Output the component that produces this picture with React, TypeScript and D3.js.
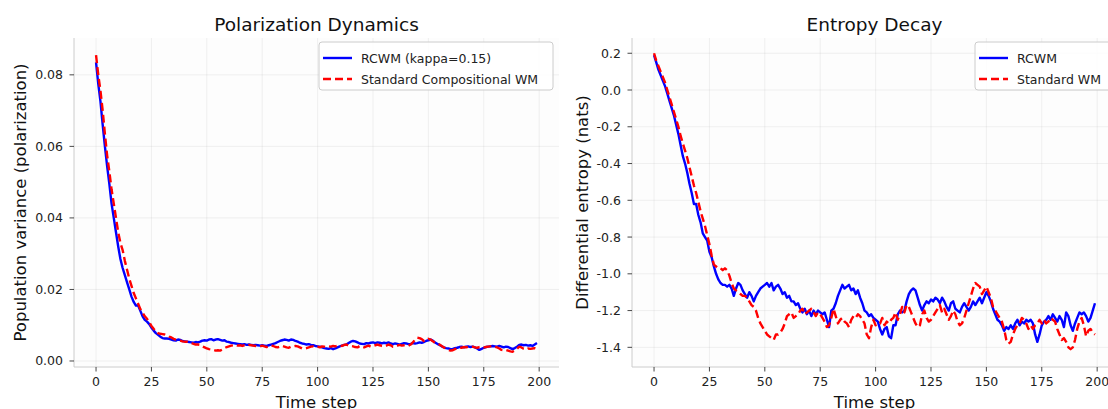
import React from "react";
import * as d3 from "d3";

const timeSteps: number[] = Array.from({ length: 200 }, (_, i) => i);

const polRCWM: number[] = [
  0.0835, 0.0775, 0.0725, 0.066, 0.06, 0.0545, 0.0495, 0.044, 0.04, 0.036,
  0.032, 0.0285, 0.026, 0.024, 0.022, 0.02, 0.018, 0.0165, 0.0155, 0.0155,
  0.014, 0.0125, 0.0115, 0.011, 0.0103, 0.0093, 0.0085, 0.0078, 0.0073, 0.0068,
  0.0064, 0.0063, 0.0063, 0.0062, 0.006, 0.0058, 0.0057, 0.006, 0.0059, 0.0056,
  0.0055, 0.0054, 0.0053, 0.0052, 0.0051, 0.0053, 0.0052, 0.0054, 0.0057, 0.0058,
  0.0057, 0.006, 0.0061, 0.0058, 0.006, 0.0061, 0.0059, 0.0057, 0.0058, 0.0054,
  0.0053, 0.0051, 0.005, 0.0049, 0.0048, 0.0047, 0.0046, 0.0047, 0.0045, 0.0046,
  0.0045, 0.0044, 0.0045, 0.0044, 0.0043, 0.0044, 0.0043, 0.0042, 0.0044, 0.0046,
  0.0048, 0.005, 0.0053, 0.0056, 0.0058, 0.006, 0.0059, 0.0057, 0.006, 0.0059,
  0.0056, 0.0054, 0.0051, 0.0049, 0.0048, 0.0046, 0.0047, 0.0045, 0.0044, 0.0042,
  0.0041, 0.004, 0.0038, 0.0036, 0.0035, 0.0034, 0.0036, 0.0033, 0.0035, 0.0038,
  0.0041, 0.0043, 0.0045, 0.0046, 0.005, 0.0054, 0.0056, 0.0055, 0.0052, 0.0049,
  0.0048, 0.0047, 0.005, 0.0049, 0.0051, 0.0052, 0.005, 0.0052, 0.0051, 0.0049,
  0.0051, 0.005, 0.0052, 0.0049, 0.0047, 0.0049, 0.0048, 0.0046, 0.0048, 0.005,
  0.0049, 0.0047, 0.0048, 0.005, 0.0049, 0.005, 0.0052, 0.0051, 0.0053, 0.0056,
  0.0058, 0.006, 0.0057, 0.0052, 0.0048, 0.0045, 0.0041, 0.0038, 0.0036, 0.0035,
  0.0033, 0.0034, 0.0036, 0.0037, 0.0039, 0.004, 0.0038, 0.004, 0.0041, 0.0039,
  0.004, 0.0038, 0.0035, 0.0031, 0.0034, 0.0037, 0.0039, 0.004, 0.0041, 0.0042,
  0.0041, 0.004, 0.0042, 0.004, 0.0038, 0.004, 0.0039, 0.0036, 0.0033, 0.0036,
  0.004, 0.0045, 0.0046, 0.0044, 0.0045, 0.0043, 0.0044, 0.0042, 0.0046, 0.005,
];

const polStandard: number[] = [
  0.0855, 0.08, 0.0755, 0.07, 0.0635, 0.0575, 0.053, 0.048, 0.044, 0.04,
  0.036, 0.033, 0.031, 0.028, 0.0255, 0.023, 0.021, 0.019, 0.0175, 0.016,
  0.0145, 0.0135, 0.0125, 0.0118, 0.0108, 0.0098, 0.009, 0.0083, 0.0078, 0.0076,
  0.0075, 0.0074, 0.0071, 0.0068, 0.0066, 0.0062, 0.006, 0.0058, 0.0057, 0.0055,
  0.0054, 0.0054, 0.0052, 0.005, 0.0048, 0.0046, 0.0046, 0.0045, 0.0041, 0.0038,
  0.0035, 0.0033, 0.0032, 0.0031, 0.0029, 0.003, 0.0029, 0.0032, 0.0036, 0.0039,
  0.0041, 0.0043, 0.0044, 0.0045, 0.0043, 0.0044, 0.0042, 0.0044, 0.0043, 0.0045,
  0.0044, 0.0043, 0.0042, 0.004, 0.0041, 0.0043, 0.0041, 0.0039, 0.004, 0.0043,
  0.0042, 0.0039, 0.0038, 0.004, 0.0042, 0.004, 0.0038, 0.0037, 0.004, 0.0041,
  0.0042, 0.0041, 0.0038, 0.0035, 0.0035, 0.0036, 0.0038, 0.004, 0.0041, 0.0039,
  0.004, 0.0038, 0.0041, 0.004, 0.0039, 0.0041, 0.004, 0.0042, 0.0041, 0.0043,
  0.0044, 0.0042, 0.0045, 0.0046, 0.0043, 0.0042, 0.0041, 0.0039, 0.0038, 0.0042,
  0.004, 0.0038, 0.0041, 0.0043, 0.004, 0.0042, 0.0044, 0.0046, 0.0044, 0.0042,
  0.0041, 0.0043, 0.0046, 0.0044, 0.004, 0.0041, 0.0043, 0.0045, 0.0043, 0.0044,
  0.0045, 0.0043, 0.0046, 0.0052, 0.006, 0.0065, 0.0064, 0.0061, 0.0056, 0.0058,
  0.0062, 0.006, 0.0055, 0.0051, 0.0048, 0.0046, 0.0042, 0.0038, 0.0034, 0.0031,
  0.0029, 0.003, 0.0033, 0.0036, 0.0038, 0.0037, 0.0039, 0.0038, 0.004, 0.0039,
  0.004, 0.0038, 0.0037, 0.0039, 0.004, 0.0038, 0.0039, 0.004, 0.0041, 0.0042,
  0.004, 0.0038, 0.0035, 0.0031, 0.003, 0.0031, 0.0029, 0.0027, 0.0026, 0.0029,
  0.0034, 0.004, 0.0038, 0.0034, 0.0032, 0.0035, 0.0034, 0.0035, 0.0036, 0.0034,
];

const entRCWM: number[] = [
  0.19, 0.15, 0.11, 0.08, 0.05, 0.02, -0.02, -0.06, -0.1, -0.14,
  -0.19, -0.24, -0.3, -0.36, -0.4, -0.45, -0.51, -0.56, -0.62, -0.62,
  -0.68, -0.72, -0.78, -0.8, -0.82, -0.88, -0.91, -0.96, -1.0, -1.03,
  -1.05, -1.06, -1.06, -1.07, -1.06, -1.08, -1.12, -1.08, -1.05, -1.06,
  -1.09, -1.11, -1.13, -1.1, -1.12, -1.15, -1.12, -1.1, -1.08, -1.07,
  -1.06, -1.05, -1.07, -1.05, -1.09, -1.07, -1.06, -1.08, -1.11, -1.1,
  -1.13, -1.12, -1.15, -1.15, -1.17, -1.16, -1.19, -1.21, -1.19, -1.22,
  -1.2, -1.23, -1.2, -1.22, -1.2, -1.21, -1.22, -1.21, -1.25, -1.29,
  -1.2, -1.19, -1.16, -1.12, -1.09, -1.06, -1.08, -1.07, -1.06, -1.09,
  -1.08, -1.11, -1.09, -1.13, -1.16, -1.2, -1.21, -1.23, -1.22, -1.24,
  -1.25, -1.26, -1.3, -1.33, -1.3, -1.29, -1.34, -1.35, -1.28, -1.28,
  -1.22, -1.2, -1.21, -1.2, -1.15, -1.11, -1.09, -1.08, -1.09, -1.13,
  -1.17, -1.2, -1.17, -1.15, -1.16, -1.14, -1.15, -1.13, -1.14, -1.16,
  -1.13, -1.15, -1.18, -1.2, -1.16, -1.15, -1.19, -1.2, -1.21, -1.18,
  -1.16, -1.18, -1.2, -1.18, -1.15, -1.17, -1.15, -1.13, -1.16, -1.13,
  -1.1, -1.12, -1.15, -1.19, -1.22, -1.25, -1.26, -1.28, -1.31, -1.29,
  -1.3, -1.28, -1.3, -1.27, -1.25, -1.28, -1.26, -1.27, -1.25, -1.26,
  -1.25, -1.27, -1.33, -1.37, -1.33, -1.28, -1.26, -1.25, -1.23, -1.25,
  -1.22, -1.24, -1.26, -1.23, -1.25, -1.29, -1.21, -1.23, -1.28, -1.31,
  -1.27, -1.24, -1.21, -1.22, -1.21, -1.23, -1.26, -1.24, -1.2, -1.16,
];

const entStandard: number[] = [
  0.2, 0.16, 0.13, 0.1, 0.07, 0.04, 0.0, -0.04, -0.08, -0.12,
  -0.16, -0.2, -0.25, -0.29, -0.33, -0.37, -0.42, -0.47, -0.52, -0.56,
  -0.61, -0.66, -0.7, -0.74, -0.79, -0.84, -0.9, -0.95, -0.96, -0.97,
  -0.97, -0.98, -0.97, -0.98, -1.01, -1.05, -1.08, -1.09, -1.1, -1.11,
  -1.12, -1.12, -1.13, -1.15, -1.17, -1.18, -1.2, -1.24, -1.27, -1.29,
  -1.31, -1.33, -1.34, -1.35, -1.36, -1.33, -1.33, -1.32, -1.3, -1.27,
  -1.23, -1.22, -1.21, -1.24, -1.23, -1.22, -1.2, -1.19, -1.22, -1.21,
  -1.2, -1.19, -1.21, -1.23, -1.21, -1.22, -1.24, -1.26, -1.29, -1.28,
  -1.24, -1.19, -1.23, -1.27, -1.25, -1.24, -1.26, -1.27, -1.29, -1.25,
  -1.23, -1.24, -1.22, -1.23, -1.25, -1.27, -1.33, -1.35, -1.29, -1.25,
  -1.28, -1.27, -1.27, -1.24, -1.28, -1.26, -1.27, -1.25, -1.24, -1.21,
  -1.25, -1.22, -1.18, -1.21, -1.17, -1.18, -1.21, -1.24, -1.27, -1.29,
  -1.28, -1.22, -1.2, -1.24, -1.26, -1.25, -1.23, -1.21, -1.19, -1.17,
  -1.21, -1.19, -1.22, -1.25, -1.23, -1.2, -1.22, -1.26, -1.28, -1.27,
  -1.24, -1.2, -1.16, -1.12, -1.08, -1.05, -1.06, -1.07, -1.11, -1.09,
  -1.07, -1.1, -1.13, -1.18, -1.2, -1.22, -1.24, -1.26, -1.3, -1.36,
  -1.38, -1.37, -1.33, -1.3, -1.28, -1.27, -1.24, -1.25, -1.27, -1.3,
  -1.28, -1.3, -1.28, -1.27, -1.25, -1.27, -1.25, -1.27, -1.26, -1.24,
  -1.25, -1.26, -1.3, -1.33, -1.36, -1.35, -1.37, -1.4, -1.41, -1.4,
  -1.36, -1.3, -1.26, -1.24, -1.28, -1.34, -1.31, -1.3, -1.32, -1.33,
];

const xTicks: number[] = [0, 25, 50, 75, 100, 125, 150, 175, 200];
const polTicks: number[] = [0, 0.02, 0.04, 0.06, 0.08];
const entTicks: number[] = [0.2, 0, -0.2, -0.4, -0.6, -0.8, -1.0, -1.2, -1.4];

const FONT = "DejaVu Sans, sans-serif";
const BLUE = "#0000ff";
const RED = "#ff0000";

type Series = { name: string; values: number[]; color: string; dash?: string };

function Panel(props: {
  left: number;
  width: number;
  top: number;
  height: number;
  title: string;
  yLabel: string;
  yLabelX: number;
  yDomain: [number, number];
  yTicks: number[];
  yFmt: (v: number) => string;
  series: Series[];
  legendX: number;
  legendW: number;
}) {
  const { left, width, top, height, title, yLabel, yLabelX, yDomain, yTicks, yFmt, series, legendX, legendW } = props;
  const x = d3.scaleLinear().domain([-9.95, 208.95]).range([left, left + width]);
  const y = d3.scaleLinear().domain(yDomain).range([top + height, top]);
  const line = (vals: number[]) =>
    d3
      .line<number>()
      .x((_, i) => x(timeSteps[i]))
      .y((d) => y(d))(vals) || "";
  const cx = left + width / 2;
  return (
    <g>
      <rect x={left} y={top} width={width} height={height} fill="#fdfdfd" />
      {xTicks.map((t) => (
        <line key={"gx" + t} x1={x(t)} x2={x(t)} y1={top} y2={top + height} stroke="#b0b0b0" strokeOpacity={0.22} strokeWidth={0.8} />
      ))}
      {yTicks.map((t) => (
        <line key={"gy" + t} x1={left} x2={left + width} y1={y(t)} y2={y(t)} stroke="#b0b0b0" strokeOpacity={0.22} strokeWidth={0.8} />
      ))}
      {series.map((s) => (
        <path
          key={s.name}
          d={line(s.values)}
          fill="none"
          stroke={s.color}
          strokeWidth={2.4}
          strokeDasharray={s.dash}
          strokeLinejoin="round"
        />
      ))}
      <line x1={left} x2={left} y1={top} y2={top + height} stroke="#cccccc" strokeWidth={1} />
      <line x1={left} x2={left + width} y1={top + height} y2={top + height} stroke="#cccccc" strokeWidth={1} />
      {xTicks.map((t) => (
        <g key={"tx" + t}>
          <line x1={x(t)} x2={x(t)} y1={top + height} y2={top + height + 4.5} stroke="#333" strokeWidth={0.9} />
          <text x={x(t)} y={top + height + 19} textAnchor="middle" fontSize={12.5} fill="#222" fontFamily={FONT}>
            {t}
          </text>
        </g>
      ))}
      {yTicks.map((t) => (
        <g key={"ty" + t}>
          <line x1={left - 4.5} x2={left} y1={y(t)} y2={y(t)} stroke="#333" strokeWidth={0.9} />
          <text x={left - 11} y={y(t) + 4.5} textAnchor="end" fontSize={12.5} fill="#222" fontFamily={FONT}>
            {yFmt(t)}
          </text>
        </g>
      ))}
      <text x={cx} y={31} textAnchor="middle" fontSize={18.5} fill="#111" fontFamily={FONT}>
        {title}
      </text>
      <text x={cx} y={408} textAnchor="middle" fontSize={16.5} fill="#111" fontFamily={FONT}>
        Time step
      </text>
      <text
        transform={`translate(${yLabelX},${top + height / 2}) rotate(-90)`}
        textAnchor="middle"
        fontSize={16.5}
        fill="#111"
        fontFamily={FONT}
      >
        {yLabel}
      </text>
      <g>
        <rect x={legendX} y={top + 4} width={legendW} height={48} rx={3} fill="#ffffff" fillOpacity={0.85} stroke="#cccccc" strokeWidth={1} />
        {series.map((s, i) => (
          <g key={"lg" + s.name}>
            <line
              x1={legendX + 4}
              x2={legendX + 33}
              y1={top + 20 + i * 21}
              y2={top + 20 + i * 21}
              stroke={s.color}
              strokeWidth={2.4}
              strokeDasharray={s.dash}
            />
            <text x={legendX + 42} y={top + 24.5 + i * 21} fontSize={12.5} fill="#222" fontFamily={FONT}>
              {s.name}
            </text>
          </g>
        ))}
      </g>
    </g>
  );
}

export default function App() {
  const fmt2 = d3.format(".2f");
  const fmt1 = (v: number) => d3.format(".1f")(v).replace("\u2212", "-");
  const dash = "8,4";
  return (
    <svg
      width={1108}
      height={409}
      style={{ position: "absolute", left: 0, top: 0, background: "#ffffff" }}
    >
      <Panel
        left={74}
        width={485}
        top={38}
        height={329}
        title="Polarization Dynamics"
        yLabel="Population variance (polarization)"
        yLabelX={26}
        yDomain={[-0.00168, 0.0903]}
        yTicks={polTicks}
        yFmt={(v) => fmt2(v)}
        series={[
          { name: "RCWM (kappa=0.15)", values: polRCWM, color: BLUE },
          { name: "Standard Compositional WM", values: polStandard, color: RED, dash },
        ]}
        legendX={319}
        legendW={234}
      />
      <Panel
        left={632}
        width={485}
        top={38}
        height={329}
        title="Entropy Decay"
        yLabel="Differential entropy (nats)"
        yLabelX={588}
        yDomain={[-1.507, 0.283]}
        yTicks={entTicks}
        yFmt={fmt1}
        series={[
          { name: "RCWM", values: entRCWM, color: BLUE },
          { name: "Standard WM", values: entStandard, color: RED, dash },
        ]}
        legendX={975}
        legendW={150}
      />
    </svg>
  );
}
